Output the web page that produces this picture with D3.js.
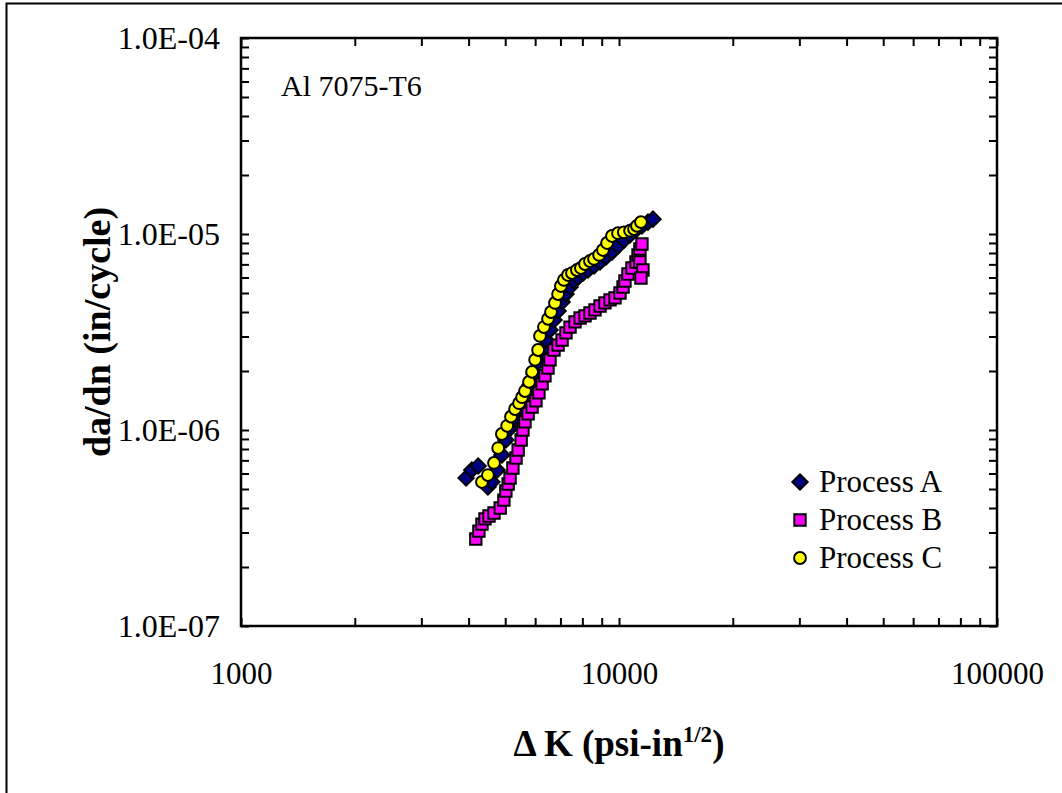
<!DOCTYPE html>
<html>
<head>
<meta charset="utf-8">
<script src="https://cdn.jsdelivr.net/npm/d3@7"></script>
<style>
  body { margin: 0; background: #fff; }
  text { font-family: "Liberation Serif", "Times New Roman", serif; fill: #000; }
</style>
</head>
<body>
<div id="chart"></div>
<script>
// delta K (psi-in^1/2) and da/dn (in/cycle)
var kA = [3940, 4080, 4240, 4500, 4610, 4760, 4900, 5020, 5150, 5280, 5410, 5540, 5680, 5820, 5960, 6110,
  6260, 6410, 6570, 6730, 6900, 7070, 7240, 7420, 7600, 7790, 8030, 8280, 8590, 8910, 9240, 9580, 9940,
  10310, 10690, 11090, 11500, 11930, 12300];
var rateA = [5.69e-7, 6.25e-7, 6.55e-7, 5.12e-7, 5.43e-7, 6.25e-7, 7.46e-7, 8.89e-7, 1.02e-6, 1.15e-6,
  1.27e-6, 1.39e-6, 1.53e-6, 1.70e-6, 1.93e-6, 2.22e-6, 2.56e-6, 2.88e-6, 3.24e-6, 3.64e-6, 4.05e-6,
  4.50e-6, 4.94e-6, 5.37e-6, 5.76e-6, 6.03e-6, 6.32e-6, 6.55e-6, 6.87e-6, 7.20e-6, 7.63e-6, 8.09e-6,
  8.69e-6, 9.32e-6, 9.88e-6, 1.05e-5, 1.10e-5, 1.15e-5, 1.19e-5];

var kB = [4180, 4260, 4340, 4420, 4530, 4670, 4850, 4960, 5020, 5090, 5150, 5240, 5340, 5410, 5510, 5570,
  5640, 5750, 5890, 6030, 6140, 6260, 6370, 6490, 6570, 6730, 6900, 7070, 7240, 7420, 7650, 7890, 8130,
  8380, 8640, 8910, 9180, 9470, 9760, 10060, 10250, 10370, 10560, 10820, 11090, 11230, 11360, 11500,
  11360, 11570, 11430];
var rateB = [2.78e-7, 3.05e-7, 3.31e-7, 3.52e-7, 3.64e-7, 3.77e-7, 4.00e-7, 4.39e-7, 4.88e-7, 5.30e-7,
  5.69e-7, 6.40e-7, 7.20e-7, 7.91e-7, 8.89e-7, 1.00e-6, 1.10e-6, 1.21e-6, 1.31e-6, 1.41e-6, 1.55e-6,
  1.72e-6, 1.89e-6, 2.07e-6, 2.28e-6, 2.56e-6, 2.71e-6, 2.88e-6, 3.13e-6, 3.35e-6, 3.56e-6, 3.73e-6,
  3.82e-6, 3.95e-6, 4.10e-6, 4.29e-6, 4.45e-6, 4.61e-6, 4.72e-6, 5.00e-6, 5.37e-6, 5.76e-6, 6.25e-6,
  6.71e-6, 7.20e-6, 7.82e-6, 8.38e-6, 8.89e-6, 7.20e-6, 6.55e-6, 5.96e-6];

var kC = [4340, 4500, 4670, 4790, 4900, 5060, 5180, 5310, 5440, 5540, 5640, 5780, 5890, 6000, 6110, 6180,
  6330, 6490, 6610, 6770, 6900, 7020, 7150, 7330, 7510, 7740, 7930, 8130, 8380, 8590, 8860, 9070, 9300,
  9580, 9940, 10300, 10700, 10960, 11160, 11430];
var rateC = [5.43e-7, 5.89e-7, 6.79e-7, 8.09e-7, 9.54e-7, 1.05e-6, 1.17e-6, 1.28e-6, 1.37e-6, 1.47e-6,
  1.58e-6, 1.76e-6, 1.98e-6, 2.28e-6, 2.56e-6, 3.02e-6, 3.35e-6, 3.69e-6, 4.00e-6, 4.45e-6, 4.94e-6,
  5.43e-6, 5.83e-6, 6.18e-6, 6.32e-6, 6.55e-6, 6.71e-6, 7.03e-6, 7.28e-6, 7.46e-6, 7.82e-6, 8.29e-6,
  9.00e-6, 9.77e-6, 1.01e-5, 1.02e-5, 1.04e-5, 1.06e-5, 1.10e-5, 1.15e-5];

var seriesNames = ["Process A", "Process B", "Process C"];
var xLabels = [1000, 10000, 100000];
var yLabels = [1e-7, 1e-6, 1e-5, 1e-4];

var width = 1062,
    height = 793,
    margin = { top: 38, right: 65, bottom: 167, left: 241 };

var svg = d3.select("#chart")
    .append("svg")
    .attr("width", width)
    .attr("height", height);

// outer frame, right and bottom edges sit on the picture border
svg.append("rect")
    .attr("x", 6.5)
    .attr("y", 3.5)
    .attr("width", 1060)
    .attr("height", 792)
    .style("fill", "none")
    .style("stroke", "#000")
    .style("stroke-width", "2px");

var x = d3.scaleLog()
    .domain([1000, 100000])
    .range([margin.left, width - margin.right]);

var y = d3.scaleLog()
    .domain([1e-7, 1e-4])
    .range([height - margin.bottom, margin.top]);

var x0 = x.range()[0], x1 = x.range()[1],
    y0 = y.range()[0], y1 = y.range()[1];

// ticks on all four sides, pointing inwards
var tickLen = 8;
function tickAxis(axis, tx, ty) {
    svg.append("g")
        .attr("transform", "translate(" + tx + "," + ty + ")")
        .call(axis.tickSizeInner(tickLen).tickSizeOuter(0).tickFormat(""))
        .call(function (g) {
            g.select(".domain").remove();
            g.selectAll("line").style("stroke", "#000").style("stroke-width", "2px");
        });
}
tickAxis(d3.axisTop(x).tickValues(x.ticks()), 0, y0);
tickAxis(d3.axisBottom(x).tickValues(x.ticks()), 0, y1);
tickAxis(d3.axisRight(y).tickValues(y.ticks()), x0, 0);
tickAxis(d3.axisLeft(y).tickValues(y.ticks()), x1, 0);

svg.append("rect")
    .attr("x", x0)
    .attr("y", y1)
    .attr("width", x1 - x0)
    .attr("height", y0 - y1)
    .style("fill", "none")
    .style("stroke", "#000")
    .style("stroke-width", "2.5px");

// tick labels
function expLabel(d) {
    var e = Math.round(Math.log10(d));
    return "1.0E" + (e < 0 ? "-" : "+") + String(Math.abs(e)).padStart(2, "0");
}

svg.append("g")
    .attr("transform", "translate(0," + y0 + ")")
    .call(d3.axisBottom(x).tickValues(xLabels).tickSize(0).tickPadding(36).tickFormat(d3.format("d")))
    .call(function (g) {
        g.select(".domain").remove();
        g.selectAll("text").style("font-size", "31px");
    });

svg.append("g")
    .attr("transform", "translate(" + x0 + ",0)")
    .call(d3.axisLeft(y).tickValues(yLabels).tickSize(0).tickPadding(21).tickFormat(expLabel))
    .call(function (g) {
        g.select(".domain").remove();
        g.selectAll("text").style("font-size", "32px");
    });

// axis titles
var xTitle = svg.append("text")
    .attr("x", (x0 + x1) / 2)
    .attr("y", 756)
    .attr("text-anchor", "middle")
    .style("font-size", "37px")
    .style("font-weight", "bold");
xTitle.append("tspan").text("\u0394 K (psi-in");
xTitle.append("tspan").attr("dy", -14).style("font-size", "23px").text("1/2");
xTitle.append("tspan").attr("dy", 14).text(")");

svg.append("text")
    .attr("transform", "translate(110," + (y0 + y1) / 2 + ") rotate(-90)")
    .attr("text-anchor", "middle")
    .style("font-size", "38px")
    .style("font-weight", "bold")
    .text("da/dn (in/cycle)");

svg.append("text")
    .attr("x", 281)
    .attr("y", 96)
    .style("font-size", "30px")
    .text("Al 7075-T6");

// markers
var markers = [
    { path: d3.symbol().type(d3.symbolSquare).size(118)(), rot: 45, fill: "#000080" },
    { path: d3.symbol().type(d3.symbolSquare).size(130)(), rot: 0, fill: "#FF00FF" },
    { path: d3.symbol().type(d3.symbolCircle).size(110)(), rot: 0, fill: "#FFFF00" }
];

var series = [d3.zip(kA, rateA), d3.zip(kB, rateB), d3.zip(kC, rateC)];

series.forEach(function (pts, i) {
    svg.append("g")
        .selectAll("path")
        .data(pts)
        .enter()
        .append("path")
        .attr("d", markers[i].path)
        .attr("transform", function (d) {
            return "translate(" + x(d[0]) + "," + y(d[1]) + ") rotate(" + markers[i].rot + ")";
        })
        .style("fill", markers[i].fill)
        .style("stroke", "#000")
        .style("stroke-width", "2px");
});

// legend
var legend = svg.append("g").attr("transform", "translate(800,482)");
seriesNames.forEach(function (name, i) {
    var row = legend.append("g").attr("transform", "translate(0," + i * 38 + ")");
    row.append("path")
        .attr("d", markers[i].path)
        .attr("transform", "rotate(" + markers[i].rot + ")")
        .style("fill", markers[i].fill)
        .style("stroke", "#000")
        .style("stroke-width", "2px");
    row.append("text")
        .attr("x", 19)
        .attr("y", 10)
        .style("font-size", "31px")
        .text(name);
});
</script>
</body>
</html>
